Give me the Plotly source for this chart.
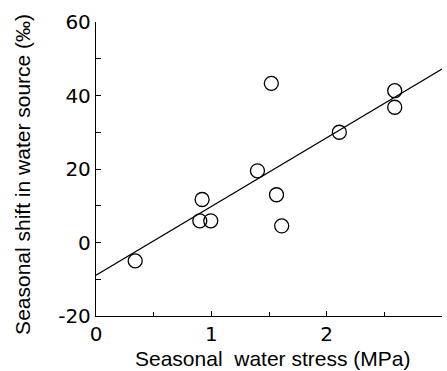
import plotly.graph_objects as go

# Data
stress_mpa = [0.34, 0.92, 0.90, 0.995, 1.40, 1.52, 1.565, 1.61, 2.11, 2.59, 2.59]
shift_permil = [-5.0, 11.7, 5.9, 5.9, 19.5, 43.3, 13.0, 4.5, 30.0, 41.3, 36.8]

# Regression line endpoints (fit)
fit_x = [0.0, 3.0]
fit_y = [-8.9, 47.2]

x_tickvals = [0, 1, 2, 3]
x_ticktext = ["0", "1", "2", "3"]
y_tickvals = [-20, 0, 20, 40, 60]
y_ticktext = ["-20", "0", "20", "40", "60"]

fig = go.Figure()
fig.add_trace(go.Scatter(
    x=fit_x, y=fit_y, mode="lines",
    line=dict(color="black", width=1.2),
    showlegend=False, hoverinfo="skip",
))
fig.add_trace(go.Scatter(
    x=stress_mpa, y=shift_permil, mode="markers",
    marker=dict(symbol="circle-open", size=14, color="black",
                line=dict(color="black", width=1.3)),
    showlegend=False, cliponaxis=False,
))

tickfont = dict(family="DejaVu Sans", size=20, color="black")
fig.update_layout(
    width=447, height=371,
    margin=dict(l=96, r=5, t=22, b=55),
    paper_bgcolor="white", plot_bgcolor="white",
    xaxis=dict(
        range=[0, 3], tickvals=x_tickvals, ticktext=x_ticktext,
        ticks="inside", ticklen=5, tickwidth=1, tickcolor="black",
        minor=dict(dtick=0.5, ticks="inside", ticklen=4, tickcolor="black", tickwidth=1),
        showline=True, linecolor="black", linewidth=1.3, mirror=False,
        showgrid=False, zeroline=False, tickfont=tickfont,
    ),
    yaxis=dict(
        range=[-20, 60], tickvals=y_tickvals, ticktext=y_ticktext,
        ticks="inside", ticklen=5, tickwidth=1, tickcolor="black",
        minor=dict(dtick=10, ticks="inside", ticklen=5, tickcolor="black", tickwidth=1),
        showline=True, linecolor="black", linewidth=1.3, mirror=False,
        showgrid=False, zeroline=False, tickfont=tickfont,
    ),
    annotations=[
        dict(text="Seasonal&nbsp;&nbsp;water stress (MPa)", xref="paper", yref="paper",
             x=0.51, y=0, yshift=-42, xanchor="center", yanchor="middle",
             showarrow=False, font=dict(family="Liberation Sans", size=21, color="black")),
        dict(text="Seasonal shift in water source (‰)", xref="paper", yref="paper",
             x=0, y=0.48, xshift=-73, textangle=-90, xanchor="center", yanchor="middle",
             showarrow=False, font=dict(family="Liberation Sans", size=21, color="black")),
    ],
)

fig.write_html("out.html")
